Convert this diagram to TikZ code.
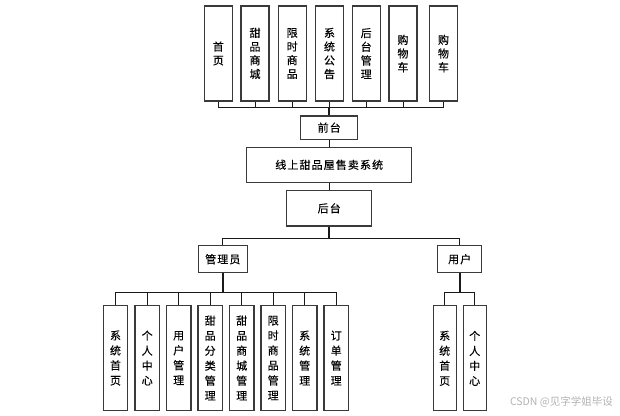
\documentclass[tikz,border=0pt]{standalone}
\usepackage{fontspec}
\setmainfont{Noto Sans CJK SC}[FakeBold=0.25]
\newfontfamily\wmfont{Noto Sans CJK SC}
\definecolor{boxc}{HTML}{3A3A3A}
\definecolor{linec}{HTML}{1A1A1A}
\tikzset{
  box/.style={draw=boxc, line width=1.1pt, fill=white, inner sep=0pt, align=center},
  hbox/.style={box, font=\fontsize{11}{12}\selectfont\addfontfeatures{LetterSpace=10}},
  vtop/.style={box, minimum width=28pt, minimum height=95pt, font=\fontsize{11}{13.7}\selectfont},
  vbot/.style={box, minimum width=24.5pt, minimum height=105pt, font=\fontsize{11}{15}\selectfont},
  conn/.style={draw=linec, line width=0.9pt},
  trunk/.style={draw=linec, line width=1.8pt},
}
\begin{document}
\begin{tikzpicture}[x=1pt,y=-1pt]
\useasboundingbox (0,0) rectangle (620,415);
% top row
\node[vtop] (t1) at (218.3,53.5) {首\\页};
\node[vtop] (t2) at (255,53.5) {甜\\品\\商\\城};
\node[vtop] (t3) at (292.2,53.5) {限\\时\\商\\品};
\node[vtop] (t4) at (329.5,53.5) {系\\统\\公\\告};
\node[vtop] (t5) at (366.2,53.5) {后\\台\\管\\理};
\node[vtop] (t6) at (403,53.5) {购\\物\\车};
\node[vtop] (t7) at (443.5,53.5) {购\\物\\车};
% middle
\node[hbox, minimum width=57pt, minimum height=23.3pt] (qt) at (329.2,127.6) {前台};
\node[hbox, minimum width=165pt, minimum height=35pt] (sys) at (329.2,164.8) {线上甜品屋售卖系统};
\node[hbox, minimum width=85pt, minimum height=35.3pt] (ht) at (329.2,208.3) {后台};
\node[hbox, minimum width=49pt, minimum height=27pt] (gly) at (222.8,259.2) {管理员};
\node[hbox, minimum width=44pt, minimum height=27pt] (yh) at (459.7,259.2) {用户};
% admin children
\node[vbot] (a1) at (115.5,358) {系\\统\\首\\页};
\node[vbot] (a2) at (147.2,358) {个\\人\\中\\心};
\node[vbot] (a3) at (178.7,358) {用\\户\\管\\理};
\node[vbot] (a4) at (210.2,358) {甜\\品\\分\\类\\管\\理};
\node[vbot] (a5) at (241.7,358) {甜\\品\\商\\城\\管\\理};
\node[vbot] (a6) at (273.2,358) {限\\时\\商\\品\\管\\理};
\node[vbot] (a7) at (304.7,358) {系\\统\\管\\理};
\node[vbot] (a8) at (336.2,358) {订\\单\\管\\理};
% user children
\node[vbot, minimum width=22.7pt] (u1) at (444.7,358.3) {系\\统\\首\\页};
\node[vbot, minimum width=22.7pt] (u2) at (474.7,358.3) {个\\人\\中\\心};
% bus coordinates
\coordinate (tb) at (329.2,107.3);
\coordinate (mb) at (329.2,238);
\coordinate (ab) at (222.8,292.3);
\coordinate (ub) at (459.7,292.3);
% top connectors
\foreach \n in {t1,t2,t3,t4,t5,t6,t7} \draw[conn] (\n.south) |- (tb);
\draw[trunk] (tb) -- (qt.north);
\draw[conn] (qt.south) -- (sys.north);
\draw[conn] (sys.south) -- (ht.north);
\draw[trunk] (ht.south) -- (mb);
\draw[conn] (gly.north) |- (mb);
\draw[conn] (yh.north) |- (mb);
\draw[trunk] (gly.south) -- (ab);
\draw[trunk] (yh.south) -- (ub);
\foreach \n in {a1,a2,a3,a4,a5,a6,a7,a8} \draw[conn] (\n.north) |- (ab);
\foreach \n in {u1,u2} \draw[conn] (\n.north) |- (ub);
% watermark
\node[text=black!30, font=\wmfont\fontsize{10.5}{12}\selectfont, anchor=east, inner sep=0pt] (wm) at (613,402) {CSDN @见字学姐毕设};
\end{tikzpicture}
\end{document}
